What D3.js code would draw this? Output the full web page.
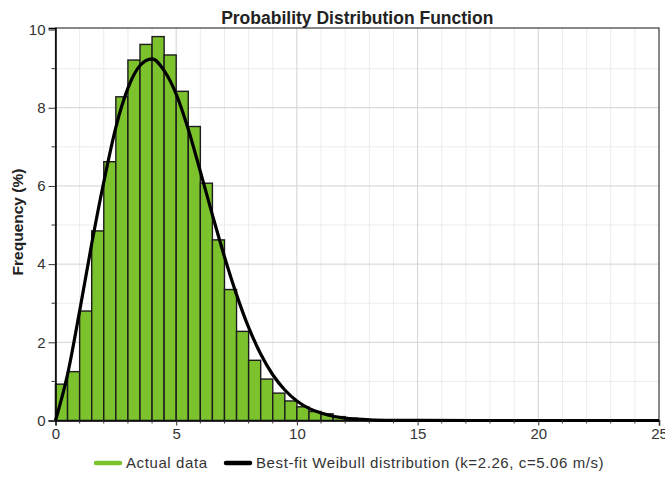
<!DOCTYPE html>
<html>
<head>
<meta charset="utf-8">
<script src="https://cdn.jsdelivr.net/npm/d3@7"></script>
<style>
  body { margin: 0; background: #fff; }
  svg text { font-family: "Liberation Sans", Arial, sans-serif; }
</style>
</head>
<body>
<svg id="chart" width="665" height="477"></svg>
<script>
// histogram bins (m/s, lower edge) and frequency (%)
let binStart = [0, 0.5, 1, 1.5, 2, 2.5, 3, 3.5, 4, 4.5, 5, 5.5, 6, 6.5, 7, 7.5, 8, 8.5, 9, 9.5, 10, 10.5, 11, 11.5, 12, 12.5];
let freq = [0.93, 1.25, 2.8, 4.85, 6.62, 8.28, 9.22, 9.62, 9.82, 9.35, 8.42, 7.52, 6.07, 4.62, 3.35, 2.28, 1.54, 1.06, 0.7, 0.5, 0.35, 0.23, 0.17, 0.1, 0.06, 0.03];
let binWidth = 0.5;

// fitted weibull curve
let fitX = [0, 0.5, 1, 1.5, 2, 2.5, 3, 3.5, 4, 4.5, 5, 5.5, 6, 6.5, 7, 7.5, 8, 8.5, 9, 9.5, 10, 10.5, 11, 11.5, 12, 12.5, 13, 14, 15, 20, 25];
let fitY = [0, 1.18, 2.8, 4.52, 6.1, 7.5, 8.5, 9.08, 9.25, 8.95, 8.35, 7.45, 6.37, 5.26, 4.19, 3.22, 2.38, 1.7, 1.17, 0.78, 0.5, 0.31, 0.19, 0.11, 0.06, 0.035, 0.018, 0.004, 0.001, 0, 0];

let xTicks = [0, 5, 10, 15, 20, 25];
let yTicks = [0, 2, 4, 6, 8, 10];

let title = 'Probability Distribution Function';
let yTitle = 'Frequency (%)';
let legendLabels = ['Actual data', 'Best-fit Weibull distribution (k=2.26, c=5.06 m/s)'];

let svg = d3.select('#chart');

// plot area
let pLeft = 55.5, pRight = 659, pTop = 28, pBottom = 420.5;

let x = d3.scaleLinear().domain([0, 25]).range([pLeft, pRight]);
let y = d3.scaleLinear().domain([0, 10.04]).range([pBottom, pTop]);

let barFill = '#7cc22d';
let majorGrid = '#d2d2d2';
let minorGrid = '#ececec';

// minor grid
svg.append('g')
  .selectAll('line')
  .data(d3.range(1, 25).filter(d => d % 5 != 0))
  .join('line')
  .attr('x1', d => x(d)).attr('x2', d => x(d))
  .attr('y1', pTop).attr('y2', pBottom)
  .attr('stroke', minorGrid);

svg.append('g')
  .selectAll('line')
  .data([1, 3, 5, 7, 9])
  .join('line')
  .attr('x1', pLeft).attr('x2', pRight)
  .attr('y1', d => y(d)).attr('y2', d => y(d))
  .attr('stroke', minorGrid);

// major grid
svg.append('g')
  .selectAll('line')
  .data([5, 10, 15, 20])
  .join('line')
  .attr('x1', d => x(d)).attr('x2', d => x(d))
  .attr('y1', pTop).attr('y2', pBottom)
  .attr('stroke', majorGrid);

svg.append('g')
  .selectAll('line')
  .data([2, 4, 6, 8])
  .join('line')
  .attr('x1', pLeft).attr('x2', pRight)
  .attr('y1', d => y(d)).attr('y2', d => y(d))
  .attr('stroke', majorGrid);

// histogram bars
svg.append('g')
  .selectAll('rect')
  .data(binStart)
  .join('rect')
  .attr('x', d => x(d))
  .attr('width', d => x(d + binWidth) - x(d))
  .attr('y', (d, i) => y(freq[i]))
  .attr('height', (d, i) => y(0) - y(freq[i]))
  .attr('fill', barFill)
  .attr('stroke', '#1c1c1c')
  .attr('stroke-width', 1.4);

// frame
svg.append('rect')
  .attr('x', pLeft).attr('y', pTop)
  .attr('width', pRight - pLeft).attr('height', pBottom - pTop)
  .attr('fill', 'none')
  .attr('stroke', '#3a3a3a')
  .attr('stroke-width', 1.2);

// weibull fit
let line = d3.line()
  .x((d, i) => x(fitX[i]))
  .y(d => y(d))
  .curve(d3.curveMonotoneX);

svg.append('path')
  .datum(fitY)
  .attr('d', line)
  .attr('fill', 'none')
  .attr('stroke', '#000')
  .attr('stroke-width', 3.2);

// axes
let xAxis = d3.axisBottom(x).tickValues(xTicks).tickSize(5).tickPadding(3);
let yAxis = d3.axisLeft(y).tickValues(yTicks).tickSize(7).tickPadding(3);

let gx = svg.append('g').attr('transform', `translate(0,${pBottom})`).call(xAxis);
let gy = svg.append('g').attr('transform', `translate(${pLeft},0)`).call(yAxis);

[gx, gy].forEach(g => {
  g.select('.domain').attr('stroke', '#000').attr('stroke-width', 1.5);
  g.selectAll('.tick line').attr('stroke', '#333');
  g.selectAll('.tick text').attr('font-size', 15).attr('fill', '#333');
});

// minor ticks
svg.append('g')
  .selectAll('line')
  .data(d3.range(1, 25).filter(d => d % 5 != 0))
  .join('line')
  .attr('x1', d => x(d)).attr('x2', d => x(d))
  .attr('y1', pBottom).attr('y2', pBottom + 3)
  .attr('stroke', '#333');

svg.append('g')
  .selectAll('line')
  .data([1, 3, 5, 7, 9])
  .join('line')
  .attr('x1', pLeft - 4).attr('x2', pLeft)
  .attr('y1', d => y(d)).attr('y2', d => y(d))
  .attr('stroke', '#333');

// titles
svg.append('text')
  .attr('x', (pLeft + pRight) / 2)
  .attr('y', 23.5)
  .attr('text-anchor', 'middle')
  .attr('font-size', 17.5)
  .attr('font-weight', 'bold')
  .attr('fill', '#222')
  .text(title);

svg.append('text')
  .attr('transform', `translate(22.5,222) rotate(-90)`)
  .attr('text-anchor', 'middle')
  .attr('font-size', 15.5)
  .attr('font-weight', 'bold')
  .attr('fill', '#222')
  .text(yTitle);

// legend
let legend = svg.append('g').attr('transform', 'translate(0,463)');
let legendItems = [
  {label: legendLabels[0], color: barFill, x0: 96},
  {label: legendLabels[1], color: '#000', x0: 226}
];
legendItems.forEach(d => {
  legend.append('line')
    .attr('x1', d.x0).attr('x2', d.x0 + 24)
    .attr('y1', 0).attr('y2', 0)
    .attr('stroke', d.color)
    .attr('stroke-width', 4.5)
    .attr('stroke-linecap', 'round');
  legend.append('text')
    .attr('x', d.x0 + 30)
    .attr('y', 0)
    .attr('dy', '0.35em')
    .attr('font-size', 15)
    .attr('letter-spacing', 0.6)
    .attr('fill', '#333')
    .text(d.label);
});
</script>
</body>
</html>
